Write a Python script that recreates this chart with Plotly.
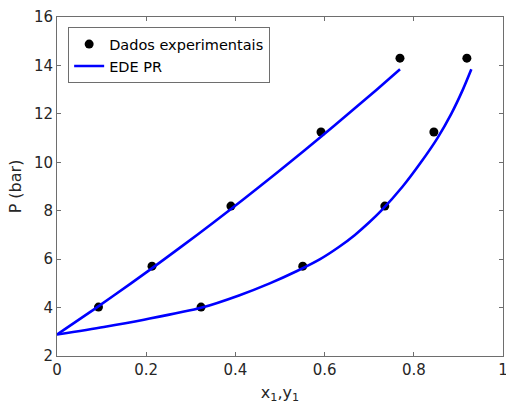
import plotly.graph_objects as go

# Experimental data
P_exp = [4.02, 5.71, 8.19, 11.25, 14.3]
x_exp = [0.093, 0.213, 0.39, 0.592, 0.769]
y_exp = [0.323, 0.551, 0.735, 0.845, 0.919]

# PR EOS curves
P_bub = [2.89, 4.0, 5.0, 6.0, 7.0, 8.0, 9.0, 10.0, 11.0, 12.0, 13.0, 13.84]
x_bub = [0.0, 0.0886, 0.1659, 0.2409, 0.3139, 0.3851, 0.4544, 0.5222, 0.5885, 0.6532, 0.7167, 0.7691]
P_dew = [2.89, 3.2, 3.5, 4.0, 4.5, 5.0, 5.5, 6.0, 6.5, 7.0, 7.5, 8.0, 9.0, 10.0, 11.0, 12.0, 13.0, 13.84]
y_dew = [0.0, 0.105, 0.195, 0.325, 0.408, 0.477, 0.537, 0.590, 0.632, 0.668, 0.699, 0.727, 0.775, 0.816, 0.853, 0.884, 0.910, 0.929]

font = "DejaVu Sans, Liberation Sans, sans-serif"
txtcol = "#262626"
axcol = "#6e6e6e"

fig = go.Figure()
fig.add_trace(go.Scatter(x=x_exp + y_exp, y=P_exp + P_exp, mode="markers",
                         marker=dict(color="black", size=9),
                         name="Dados experimentais"))
fig.add_trace(go.Scatter(x=x_bub, y=P_bub, mode="lines",
                         line=dict(color="#0000ff", width=2.6, shape="spline", smoothing=0.8),
                         name="EDE PR"))
fig.add_trace(go.Scatter(x=y_dew, y=P_dew, mode="lines",
                         line=dict(color="#0000ff", width=2.6, shape="spline", smoothing=0.8),
                         name="EDE PR", showlegend=False))

fig.update_layout(
    width=506, height=404,
    margin=dict(l=57, r=3, t=17, b=48),
    paper_bgcolor="white", plot_bgcolor="white",
    font=dict(family=font, size=15, color=txtcol),
    legend=dict(x=0.025, y=0.97, xanchor="left", yanchor="top",
                bordercolor=axcol, borderwidth=1, bgcolor="white",
                font=dict(size=14.5, color="black"), tracegroupgap=0,
                itemwidth=30),
    xaxis=dict(range=[0, 1], tickvals=[0, 0.2, 0.4, 0.6, 0.8, 1],
               ticktext=["0", "0.2", "0.4", "0.6", "0.8", "1"],
               showgrid=False, zeroline=False, showline=True, linecolor=axcol,
               linewidth=1, mirror="ticks", ticks="inside", ticklen=4,
               tickcolor=axcol, automargin=False, ticklabeloverflow="allow",
               tickfont=dict(size=15, color=txtcol),
               title=dict(text="x<sub>1</sub>,y<sub>1</sub>", standoff=8,
                          font=dict(size=16, color=txtcol))),
    yaxis=dict(range=[2, 16], tickvals=[2, 4, 6, 8, 10, 12, 14, 16],
               showgrid=False, zeroline=False, showline=True, linecolor=axcol,
               linewidth=1, mirror="ticks", ticks="inside", ticklen=4,
               tickcolor=axcol, automargin=False,
               tickfont=dict(size=15, color=txtcol),
               title=dict(text="P (bar)", standoff=8,
                          font=dict(size=16, color=txtcol))),
)

fig.write_html("out.html", config={"displayModeBar": False},
               post_script="document.body.style.margin='0';document.body.style.padding='0';document.body.style.overflow='hidden';")
